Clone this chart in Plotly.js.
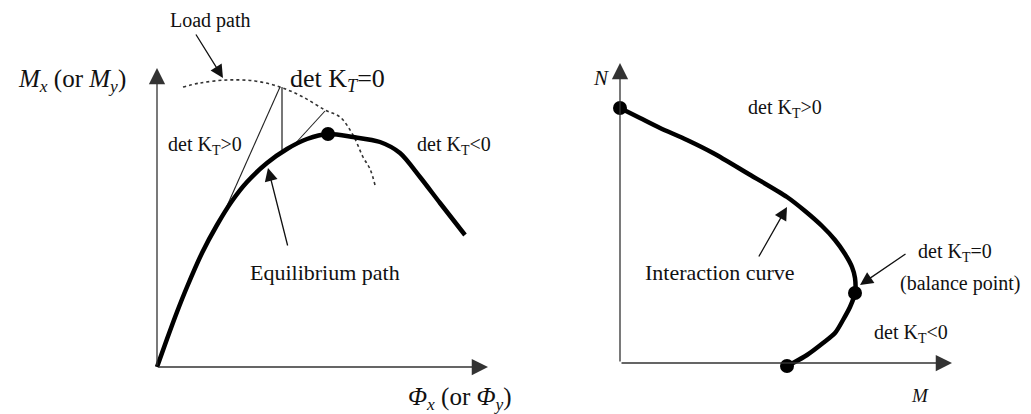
<!DOCTYPE html>
<html>
<head>
<meta charset="utf-8">
<script src="https://cdn.plot.ly/plotly-3.0.1.min.js"></script>
<style>
  html, body { margin: 0; padding: 0; background: #fff; }
  #chart { width: 1031px; height: 414px; }
</style>
</head>
<body>
<div id="chart"></div>
<script>
// left panel: equilibrium path (moment vs rotation)
var eqX = [0, 1, 2, 3, 4.5, 6, 7.5, 9, 11, 13, 15, 17.1, 19.6, 22.3, 24.3, 26.3, 28.3, 30.8];
var eqY = [0, 2.8, 5.5, 8.0, 11.4, 14.2, 16.6, 18.5, 20.4, 21.8, 22.8, 23.3, 23, 22.5, 21.4, 19, 16.4, 13.2];
var peakX = [17.1];
var peakY = [23.3];

// load path (dotted)
var loadX = [2.6, 4.3, 7, 9.8, 12.3, 14.6, 16.8, 18.3, 19.6, 20.6, 21.3, 21.8];
var loadY = [28, 28.4, 28.7, 28.6, 28, 27, 25.7, 25, 23.2, 21, 19.8, 18.2];

// construction lines
var tangentX = [7.0, 12.3];
var tangentY = [16.1, 28];
var vertX = [12.5, 12.5];
var vertY = [21.7, 28];
var chordX = [13.6, 16.8];
var chordY = [22.1, 25.6];

// right panel: interaction curve N-M
var intM = [0, 2, 4, 6.7, 9.3, 12.7, 16.7, 18.5, 20.2, 21.5, 22.5, 23.2, 23.5, 23.5, 23, 22.3, 21.5, 20.3, 18.7, 17.3, 16.7];
var intN = [25.5, 24.5, 23.5, 22.3, 21, 19, 16.6, 15.2, 13.7, 12.3, 10.9, 9.6, 8.5, 7, 5.6, 4.3, 3, 2, 0.8, 0, -0.3];
var keyM = [0, 23.5, 16.7];
var keyN = [25.5, 7, -0.3];

var serif = "'Liberation Serif', 'Times New Roman', serif";

var traces = [
  {x: loadX, y: loadY, mode: 'lines', line: {color: '#333', width: 1.6, dash: 'dot', shape: 'spline'}, xaxis: 'x', yaxis: 'y'},
  {x: tangentX, y: tangentY, mode: 'lines', line: {color: '#222', width: 1.1}, xaxis: 'x', yaxis: 'y'},
  {x: vertX, y: vertY, mode: 'lines', line: {color: '#555', width: 1.6}, xaxis: 'x', yaxis: 'y'},
  {x: chordX, y: chordY, mode: 'lines', line: {color: '#222', width: 1.1}, xaxis: 'x', yaxis: 'y'},
  {x: eqX, y: eqY, mode: 'lines', line: {color: '#000', width: 4.5, shape: 'spline', smoothing: 0.8}, xaxis: 'x', yaxis: 'y'},
  {x: peakX, y: peakY, mode: 'markers', marker: {color: '#000', size: 14}, xaxis: 'x', yaxis: 'y'},
  {x: intM, y: intN, mode: 'lines', line: {color: '#000', width: 4.5, shape: 'spline', smoothing: 0.8}, xaxis: 'x2', yaxis: 'y2'},
  {x: keyM, y: keyN, mode: 'markers', marker: {color: '#000', size: 14}, xaxis: 'x2', yaxis: 'y2'}
];

function arrow(x, y, ax, ay, sub, head, size, col) {
  return {x: x, y: y, ax: ax, ay: ay, xref: 'x' + sub, yref: 'y' + sub, axref: 'x' + sub, ayref: 'y' + sub,
    text: '', showarrow: true, arrowhead: head, arrowsize: size, arrowwidth: 1.3, arrowcolor: col || '#111'};
}
function label(x, y, text, sub, size) {
  return {x: x, y: y, xref: 'x' + sub, yref: 'y' + sub, text: text, showarrow: false,
    font: {family: serif, size: size, color: '#111'}};
}

var annotations = [
  // axes
  arrow(0, 29.9, 0, 0, '', 2, 2.5, '#333'),
  arrow(33.1, 0, 0, 0, '', 2, 2.5, '#333'),
  arrow(0, 30, 0, 0, '2', 2, 2.5, '#333'),
  arrow(33.2, 0, 0, 0, '2', 2, 2.5, '#333'),
  // pointers
  arrow(6.6, 28.9, 3.8, 33.4, '', 2, 2),
  arrow(11.1, 19.9, 13.1, 12, '', 2, 2),
  arrow(16.7, 15.6, 13.8, 10.5, '2', 2, 2),
  arrow(24, 7.8, 28.7, 11, '2', 2, 2),
  // left labels
  label(-8.5, 28.7, '<i>M<sub>x</sub></i> (or <i>M<sub>y</sub></i>)', '', 25),
  label(30.3, -3.1, '<i>Φ<sub>x</sub></i> (or <i>Φ<sub>y</sub></i>)', '', 25),
  label(5.3, 34.7, 'Load path', '', 20),
  label(18, 28.7, 'det K<sub><i>T</i></sub>=0', '', 26),
  label(4.8, 22.2, 'det K<sub>T</sub>&gt;0', '', 20),
  label(29.7, 22.2, 'det K<sub>T</sub>&lt;0', '', 20),
  label(16.8, 9.5, 'Equilibrium path', '', 22),
  // right labels
  label(-1.9, 28.5, '<i>N</i>', '2', 21),
  label(30, -3.2, '<i>M</i>', '2', 19),
  label(16.5, 25.5, 'det K<sub>T</sub>&gt;0', '2', 20),
  label(10, 9.1, 'Interaction curve', '2', 22),
  label(33.5, 11.1, 'det K<sub>T</sub>=0', '2', 20),
  label(34, 8, '(balance point)', '2', 20),
  label(29.1, 3, 'det K<sub>T</sub>&lt;0', '2', 20)
];

function hidden(dom, rng) {
  return {domain: dom, range: rng, visible: false, showgrid: false, zeroline: false, fixedrange: true};
}

var layout = {
  width: 1031,
  height: 414,
  margin: {l: 0, r: 0, t: 0, b: 0},
  paper_bgcolor: '#fff',
  plot_bgcolor: '#fff',
  showlegend: false,
  xaxis: hidden([0, 0.5], [-15.7, 35.85]),
  yaxis: hidden([0, 1], [-4.7, 36.7]),
  xaxis2: hidden([0.5, 1], [-10.45, 41.1]),
  yaxis2: hidden([0, 1], [-5.1, 36.3]),
  annotations: annotations
};

Plotly.newPlot('chart', traces, layout, {displayModeBar: false, staticPlot: true});
</script>
</body>
</html>
